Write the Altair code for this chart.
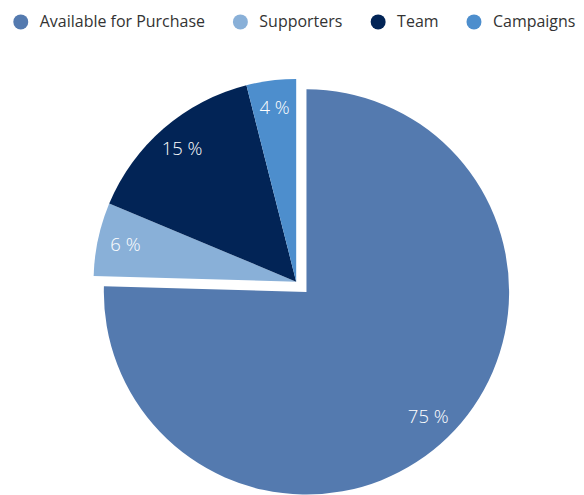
import math
import altair as alt
import pandas as pd

categories = ["Available for Purchase", "Supporters", "Team", "Campaigns"]
values = [75.45, 5.85, 14.75, 3.95]
colors = ["#547AAF", "#89B0D8", "#022456", "#4D8ECD"]
exploded = ["Available for Purchase"]

starts, ends = [], []
acc = 0.0
for v in values:
    starts.append(acc)
    acc += v
    ends.append(acc)

df = pd.DataFrame({
    "category": categories,
    "value": values,
    "start": starts,
    "end": ends,
    "mid": [(s + e) / 2 for s, e in zip(starts, ends)],
    "order": list(range(len(categories))),
})

FONT = "Open Sans"
RADIUS = 203
LABEL_R = 175
# pie centres (plot coordinates)
CX_MAIN, CY_MAIN = 299, 284
CX_REST, CY_REST = 288.7, 273.7

theta_scale = alt.Scale(domain=[0, 100], range=[0, 2 * math.pi])
color_scale = alt.Scale(domain=categories, range=colors)

base = alt.Chart(df).transform_calculate(
    label="format(datum.value, '.0f') + ' %'"
)


def arcs(filter_expr, cx, cy):
    return base.transform_filter(filter_expr).mark_arc(
        outerRadius=RADIUS, stroke=None
    ).encode(
        theta=alt.Theta("start:Q", scale=theta_scale, stack=None),
        theta2="end:Q",
        color=alt.Color(
            "category:N",
            scale=color_scale,
            sort=categories,
            legend=alt.Legend(
                title=None,
                orient="none",
                direction="horizontal",
                legendX=4.8,
                legendY=5.5,
                symbolType="circle",
                symbolSize=225,
                symbolStrokeWidth=0,
                labelFont=FONT,
                labelFontSize=16,
                labelFontWeight=400,
                labelColor="#333333",
                labelOffset=11,
                labelLimit=0,
                columnPadding=27,
                padding=0,
            ),
        ),
        x=alt.value(cx),
        y=alt.value(cy),
    )


def labels(filter_expr, cx, cy):
    return base.transform_filter(filter_expr).mark_text(
        radius=LABEL_R,
        font=FONT,
        fontSize=18.5,
        fontWeight=300,
        color="#ffffff",
        align="center",
        baseline="middle",
    ).encode(
        theta=alt.Theta("mid:Q", scale=theta_scale, stack=None),
        text="label:N",
        x=alt.value(cx),
        y=alt.value(cy),
    )


main_f = "indexof(" + str(exploded).replace("'", '"') + ", datum.category) >= 0"
rest_f = "indexof(" + str(exploded).replace("'", '"') + ", datum.category) < 0"

chart = alt.layer(
    arcs(main_f, CX_MAIN, CY_MAIN),
    arcs(rest_f, CX_REST, CY_REST),
    labels(main_f, CX_MAIN, CY_MAIN),
    labels(rest_f, CX_REST, CY_REST),
).properties(
    width=568,
    height=479,
    padding=0,
    background="#ffffff",
).configure_view(stroke=None)

chart.save("out.html", embed_options={"renderer": "svg", "actions": False})
